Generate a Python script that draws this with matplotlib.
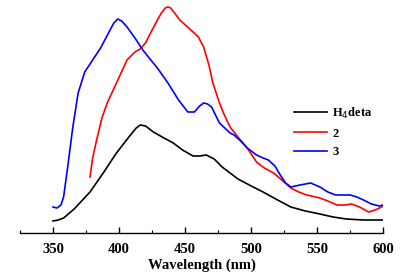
import matplotlib
matplotlib.use("Agg")
import matplotlib.pyplot as plt
from matplotlib.ticker import MultipleLocator

# Wavelength (nm) and intensity (arb. units)
h4deta_x = [350, 354, 358, 366, 378, 388, 398, 408, 413, 416, 420, 426, 434, 441, 448, 456, 461, 466, 472, 478, 484, 490, 500, 509, 520, 530, 541, 552, 562, 572, 585, 600]
h4deta_y = [12, 13, 15, 24, 41, 60, 80, 97, 105, 108, 107, 101, 95, 90, 83, 77, 77, 78, 74, 66, 60, 54, 47, 41, 33, 26, 22, 19, 16, 14, 13, 13]

c2_x = [378, 380, 383, 387, 391, 398, 406, 412, 416, 420, 425, 429, 432, 435, 437, 439, 442, 446, 451, 456, 460, 464, 468, 471, 476, 479, 484, 490, 497, 504, 510, 517, 524, 530, 536, 542, 552, 558, 565, 571, 576, 582, 589, 594, 600]
c2_y = [56, 75, 93, 115, 130, 150, 173, 181, 184, 190, 203, 213, 220, 225, 226, 225, 220, 213, 207, 201, 196, 186, 168, 150, 130, 120, 106, 96, 85, 71, 65, 60, 52, 45, 41, 38, 35, 32, 28, 28, 29, 26, 21, 23, 27]

c3_x = [350, 353, 356, 358, 361, 365, 369, 374, 380, 386, 392, 396, 399, 402, 406, 412, 418, 424, 429, 437, 445, 452, 457, 461, 464, 467, 470, 476, 484, 487, 492, 497, 504, 509, 513, 518, 522, 526, 530, 537, 545, 552, 558, 564, 570, 575, 580, 585, 591, 597, 600]
c3_y = [26, 25, 28, 36, 65, 106, 140, 161, 173, 185, 200, 210, 214, 212, 206, 195, 183, 173, 165, 150, 133, 121, 121, 127, 130, 129, 126, 110, 100, 98, 92, 85, 78, 75, 73, 67, 58, 50, 46, 48, 50, 46, 41, 38, 38, 38, 36, 33, 29, 27, 28]

series_labels = ["H$_4$deta", "2", "3"]
series_colors = ["black", "red", "blue"]

x_ticks = [350, 400, 450, 500, 550, 600]

fig = plt.figure(figsize=(4.2, 2.76), dpi=100)
ax = fig.add_axes([20/420, 43/276, 363.3/420, 233/276])

for xs, ys, lab, col in zip([h4deta_x, c2_x, c3_x], [h4deta_y, c2_y, c3_y], series_labels, series_colors):
    ax.plot(xs, ys, color=col, lw=1.2, label=lab, solid_joinstyle="round")

ax.set_xlim(325, 600)
ax.set_ylim(0, 233)
for s in ["top", "left", "right"]:
    ax.spines[s].set_visible(False)
ax.spines["bottom"].set_linewidth(1.0)
ax.set_yticks([])
ax.set_xticks(x_ticks)
ax.xaxis.set_minor_locator(MultipleLocator(25))
ax.tick_params(axis="x", which="major", direction="in", length=4, width=1.0, pad=7)
ax.tick_params(axis="x", which="minor", direction="in", length=2.5, width=0.8)
for t in ax.get_xticklabels():
    t.set_fontfamily("Liberation Serif")
    t.set_fontweight("bold")
    t.set_fontsize(10.5)
ax.set_xlabel("Wavelength (nm)", fontfamily="Liberation Serif", fontweight="bold", fontsize=10.5, labelpad=2)

leg = ax.legend(loc="upper left", bbox_to_anchor=(0.722, 0.595), frameon=False,
                prop={"family": "Liberation Serif", "weight": "bold", "size": 9},
                handlelength=2.7, handletextpad=0.4, labelspacing=0.55)

fig.savefig("out.png", dpi=100)
